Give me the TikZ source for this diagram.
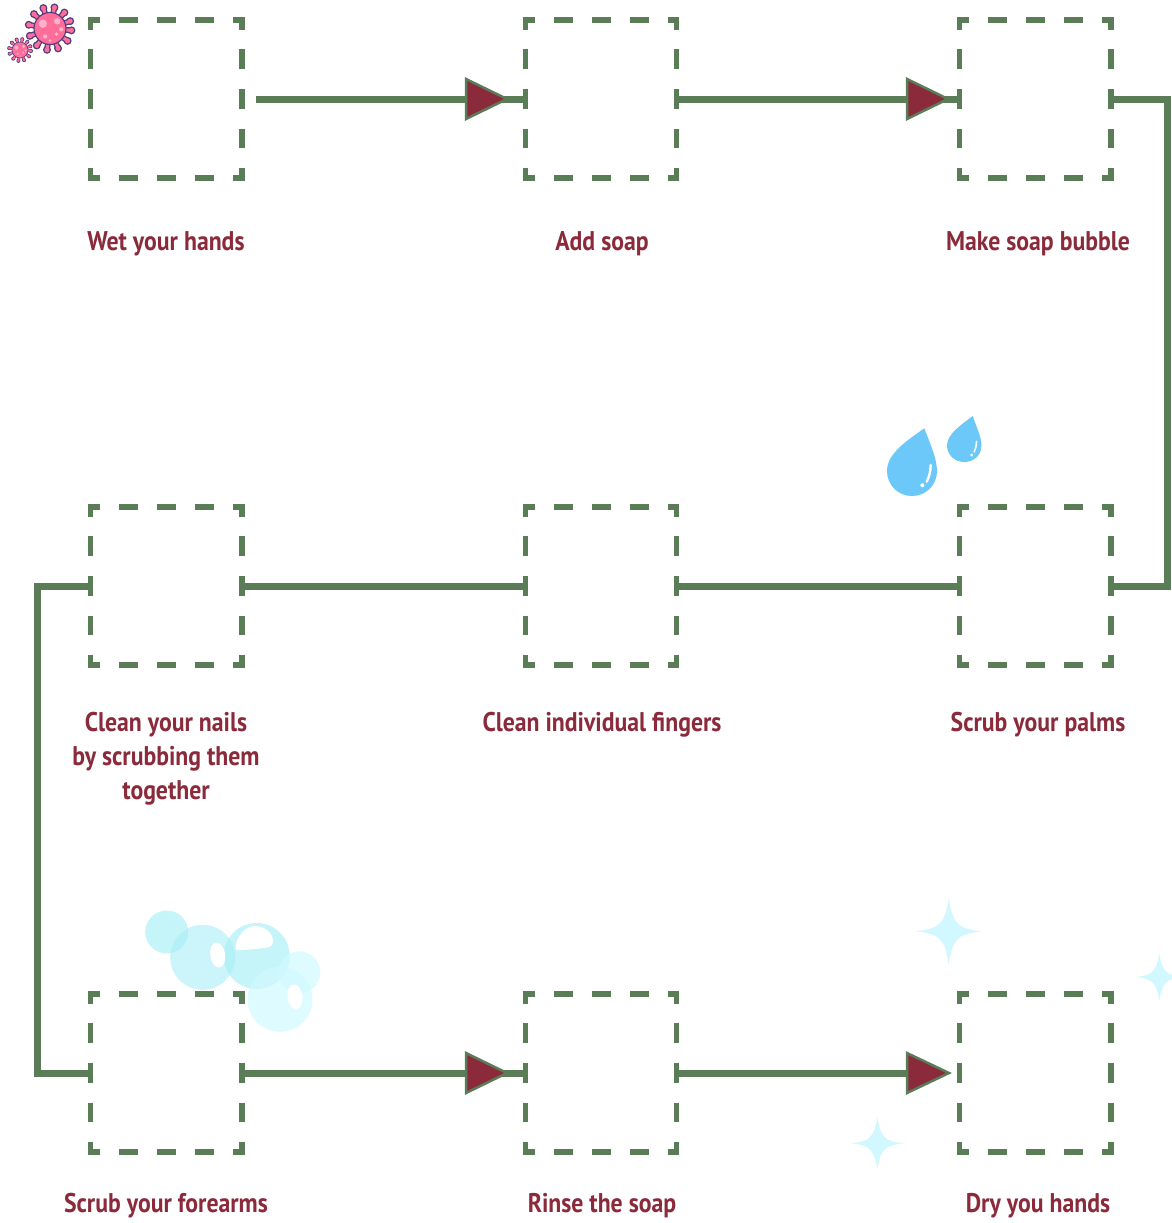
\documentclass[tikz,border=0pt]{standalone}
\usepackage{fontspec}
\setmainfont{PT Sans}[FakeStretch=.88]
\usetikzlibrary{calc}
\definecolor{linegreen}{HTML}{5A7D57}
\definecolor{wine}{HTML}{8A2A3B}
\definecolor{drop}{HTML}{6CC8F8}
\definecolor{spark}{HTML}{D2F8FF}
\definecolor{bubA}{HTML}{A8EFF6}
\definecolor{bubB}{HTML}{D0F9FF}
\definecolor{vpink}{HTML}{FF6E9B}
\definecolor{vdark}{HTML}{4F3D80}
\definecolor{vspot}{HTML}{FFB3CC}
\tikzset{
  stepcell/.style={inner sep=0pt,outer sep=0pt,minimum width=151.5pt,minimum height=158pt},
  hside/.style={draw=linegreen,line width=5.2pt,shorten <=-2.6pt,shorten >=-2.6pt,dash pattern=on 19pt off 19pt,dash phase=7pt},
  vside/.style={draw=linegreen,line width=5.2pt,shorten <=-2.6pt,shorten >=-2.6pt,dash pattern=on 19.8pt off 19.8pt,dash phase=7.6pt},
  flow/.style={draw=linegreen,line width=7pt,miter limit=10},
  head/.style={draw=linegreen,line width=2.5pt,fill=wine,line join=miter},
  steplabel/.style={text=wine,font=\bfseries\fontsize{27}{34}\selectfont,align=center,inner sep=0pt},
  bubone/.style={fill=bubA,opacity=.65},
  bubtwo/.style={fill=bubB,opacity=.7},
  shine/.style={fill=white},
  sparkle/.style={fill=spark},
}
\newcommand{\headat}[3]{\draw[head] (#1-#3,#2-20) -- (#1+1,#2) -- (#1-#3,#2+20) -- cycle;}
\newcommand{\sparkat}[3]{\fill[sparkle] (#1,#2-#3) .. controls (#1+.12*#3,#2-.2*#3) and (#1+.3*#3,#2-.08*#3) .. (#1+#3,#2)
  .. controls (#1+.3*#3,#2+.08*#3) and (#1+.12*#3,#2+.2*#3) .. (#1,#2+#3)
  .. controls (#1-.12*#3,#2+.2*#3) and (#1-.3*#3,#2+.08*#3) .. (#1-#3,#2)
  .. controls (#1-.3*#3,#2-.08*#3) and (#1-.12*#3,#2-.2*#3) .. (#1,#2-#3) -- cycle;}
\newcommand{\virusat}[4]{% x y bodyradius tipradius
  \foreach \a in {5,35,68,98,128,160,190,222,252,282,312,340}{
    \draw[vdark,line width=#3*.36pt] (#1,#2) -- ({#1+#4*cos(\a)},{#2+#4*sin(\a)});
    \fill[vdark] ({#1+#4*cos(\a)},{#2+#4*sin(\a)}) circle[radius=#3*.25];
  }
  \foreach \a in {5,35,68,98,128,160,190,222,252,282,312,340}{
    \draw[vpink,line width=#3*.2pt] (#1,#2) -- ({#1+#4*cos(\a)},{#2+#4*sin(\a)});
    \fill[vpink] ({#1+#4*cos(\a)},{#2+#4*sin(\a)}) circle[radius=#3*.16];
  }
  \fill[vpink,draw=vdark,line width=#3*.07pt] (#1,#2) circle[radius=#3];
  \fill[vspot] (#1-.45*#3,#2-.3*#3) circle[radius=.26*#3];
  \fill[vspot] (#1+.45*#3,#2-.45*#3) circle[radius=.2*#3];
  \fill[vspot] (#1+.4*#3,#2+.35*#3) circle[radius=.12*#3];
  \fill[vspot] (#1-.3*#3,#2+.5*#3) circle[radius=.13*#3];
  \fill[vspot] (#1+.7*#3,#2+.05*#3) circle[radius=.13*#3];
  \fill[vspot] (#1,#2+.75*#3) circle[radius=.08*#3];
}
\begin{document}
\begin{tikzpicture}[x=1pt,y=-1pt]
\useasboundingbox (0,0) rectangle (1171,1223);
% decorations
\virusat{50}{28.5}{16}{21.5}
\virusat{20}{50}{8}{11}
\fill[bubone] (166.7,932) circle[radius=21.5];
\fill[bubone,opacity=.6] (202.7,957.3) circle[radius=32.5];
\fill[bubone] (256.7,956) circle[radius=33];
\fill[bubtwo] (299.3,972.3) circle[radius=21];
\fill[bubtwo] (280,999.3) circle[radius=32.5];
\fill[shine,rotate around={8:(217.7,955)}] (217.7,955) ellipse[x radius=7.5,y radius=12.5];
\fill[shine,rotate around={8:(295,996.7)}] (295,996.7) ellipse[x radius=7.5,y radius=12.5];
\fill[shine] (235.5,948.5) .. controls (236,936) and (246,926) .. (255,926)
  .. controls (264,926) and (273,933) .. (273,941)
  .. controls (273,946) and (270,947.5) .. (264,948)
  .. controls (255,949) and (245,950) .. (239,950)
  .. controls (236.5,950) and (235.5,950) .. (235.5,948.5) -- cycle;
\fill[drop] (924.3,428.3) .. controls (929,441) and (937,458) .. (937,471)
  .. controls (937,485) and (926,496) .. (912,496)
  .. controls (898,496) and (887,485) .. (887,471)
  .. controls (887,453) and (908,440) .. (924.3,428.3) -- cycle;
\draw[white,line width=2.4pt,line cap=round] (930.7,465) .. controls (930.5,472) and (929,477) .. (926.7,481.7);
\fill[white] (922.3,485.3) circle[radius=2];
\fill[drop] (972.7,416) .. controls (976,426) and (981.5,437) .. (981.5,445.5)
  .. controls (981.5,455) and (974,462) .. (964.3,462)
  .. controls (955,462) and (947,455) .. (947,445.5)
  .. controls (947,434) and (961,425) .. (972.7,416) -- cycle;
\draw[white,line width=1.6pt,line cap=round] (976.5,441.5) .. controls (976.3,446) and (975.5,449) .. (974.2,452);
\fill[white] (971.5,455) circle[radius=1.5];
\sparkat{948.7}{931.3}{33}
\sparkat{1159.3}{977}{24}
\sparkat{877.3}{1143.3}{26.5}
% boxes
\foreach \n/\x/\y in {b1/166.25/99,b2/601/99,b3/1035.25/99,b4/166.25/586,b5/601/586,b6/1035.25/586,b7/166.25/1073,b8/601/1073,b9/1035.25/1073}{
  \node[stepcell] (\n) at (\x,\y) {};
  \draw[hside] (\n.north west) -- (\n.north east);
  \draw[hside] (\n.south west) -- (\n.south east);
  \draw[vside] (\n.north west) -- (\n.south west);
  \draw[vside] (\n.north east) -- (\n.south east);
}
% connectors
\draw[flow,shorten <=14pt] (b1.east) -- (b2.west);
\draw[flow] (b2.east) -- (b3.west);
\draw[flow] (b3.east) -- ++(56.5,0) |- (b6.east);
\draw[flow] (b6.west) -- (b5.east);
\draw[flow] (b5.west) -- (b4.east);
\draw[flow] (b4.west) -- ++(-53.5,0) |- (b7.west);
\draw[flow] (b7.east) -- (b8.west);
\draw[flow,shorten >=20pt] (b8.east) -- (b9.west);
\headat{506}{99}{40}
\headat{947}{99}{40}
\headat{506}{1073}{40}
\headat{948}{1073}{41}
% labels
\node[steplabel] (t1) at (166,244) {Wet your hands};
\node[steplabel] (t2) at (602,244) {Add soap};
\node[steplabel] (t3) at (1038,244) {Make soap bubble};
\node[steplabel] (t4) at (166,759) {Clean your nails\\by scrubbing them\\together};
\node[steplabel] (t5) at (602,725) {Clean individual fingers};
\node[steplabel] (t6) at (1038,725) {Scrub your palms};
\node[steplabel] (t7) at (166,1206) {Scrub your forearms};
\node[steplabel] (t8) at (602,1206) {Rinse the soap};
\node[steplabel] (t9) at (1038,1206) {Dry you hands};
\end{tikzpicture}
\end{document}
